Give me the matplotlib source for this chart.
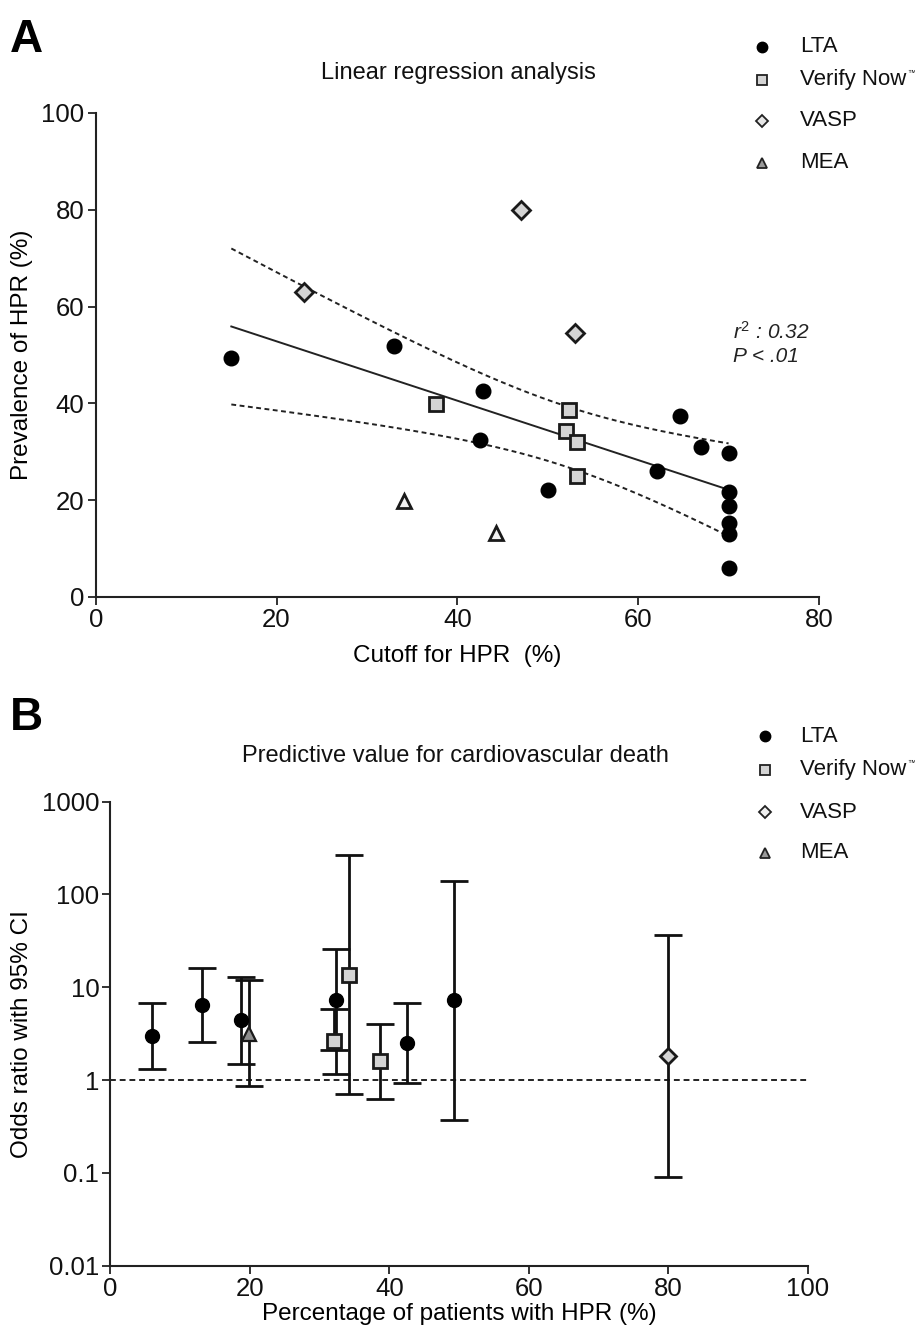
import numpy as np
import matplotlib
matplotlib.use("Agg")
import matplotlib.pyplot as plt
from matplotlib.lines import Line2D
from matplotlib.ticker import FixedLocator, FixedFormatter, NullLocator

plt.rcParams['font.family'] = ['Liberation Sans', 'DejaVu Sans']
plt.rcParams['mathtext.fontset'] = 'custom'
plt.rcParams['mathtext.it'] = 'Liberation Sans:italic'
plt.rcParams['mathtext.rm'] = 'Liberation Sans'

# ---------------- Panel A: cutoff vs prevalence of HPR ----------------
lta_cutoff = [15, 33, 42.8, 42.5, 50, 62.1, 64.6, 67, 70, 70, 70, 70, 70, 70]
lta_prev = [49.3, 51.9, 42.5, 32.4, 22.1, 26.1, 37.3, 31.0, 29.8, 21.6, 18.7, 15.3, 13.1, 6.0]

vn_cutoff = [37.6, 52.3, 52.0, 53.2, 53.2]
vn_prev = [39.8, 38.7, 34.2, 32.1, 25.1]

vasp_cutoff = [23, 47, 53]
vasp_prev = [63.1, 80.0, 54.5]

mea_cutoff = [34.1, 44.3]
mea_prev = [19.8, 13.2]

# two-sided 95% t quantile, 22 degrees of freedom
T_975_DF22 = 2.074

# ---------------- Panel B: odds ratios for cardiovascular death ----------------
lta_hpr = [6.0, 13.1, 18.7, 32.4, 42.5, 49.3]
lta_or = [3.0, 6.4, 4.4, 7.3, 2.5, 7.2]
lta_lo = [1.31, 2.57, 1.50, 1.15, 0.92, 0.37]
lta_hi = [6.8, 16.2, 13.0, 25.8, 6.8, 139]

vn_hpr = [32.1, 34.2, 38.7]
vn_or = [2.6, 13.7, 1.6]
vn_lo = [2.1, 0.70, 0.63]
vn_hi = [5.8, 267, 4.0]

vasp_hpr = [80.0]
vasp_or = [1.8]
vasp_lo = [0.089]
vasp_hi = [36.8]

mea_hpr = [19.8]
mea_or = [3.1]
mea_lo = [0.86]
mea_hi = [11.9]

or_ticks = [0.01, 0.1, 1, 10, 100, 1000]
or_ticklabels = ['0.01', '0.1', '1', '10', '100', '1000']

LIGHT = '#d4d4d4'
MID = '#8e8e8e'

W, H = 915, 1336
fig = plt.figure(figsize=(W / 100, H / 100), dpi=100)
renderer = fig.canvas.get_renderer()


def fx(px):
    return px / W


def fy(py):
    return 1 - py / H


def style_axes(ax):
    for s in ('top', 'right'):
        ax.spines[s].set_visible(False)
    for s in ('left', 'bottom'):
        ax.spines[s].set_linewidth(1.5)
        ax.spines[s].set_color('#222222')
    ax.tick_params(direction='out', length=6, width=1.3, labelsize=18.5,
                   color='#222222', labelcolor='#111111', pad=2)


def legend_block(x_marker, x_text, ys, entries):
    for y, (label, kw) in zip(ys, entries):
        fig.add_artist(Line2D([fx(x_marker)], [fy(y)], transform=fig.transFigure,
                              linestyle='none', **kw))
        t = fig.text(fx(x_text), fy(y), label, fontsize=16, va='center', ha='left',
                     color='#111111')
        if label == 'Verify Now':
            # small trademark sign right after the product name
            bb = t.get_window_extent(renderer=renderer)
            fig.text(bb.x1 / W + 0.001, fy(y - 3), '\u2122', fontsize=6,
                     va='bottom', ha='left', color='#111111')


# ---- Panel A ----
axA = fig.add_axes([fx(95.7), fy(597), fx(819 - 95.7), (597 - 113) / H])
style_axes(axA)

x_all = np.array(lta_cutoff + vn_cutoff + vasp_cutoff + mea_cutoff, dtype=float)
y_all = np.array(lta_prev + vn_prev + vasp_prev + mea_prev, dtype=float)
n = len(x_all)
slope, intercept = np.polyfit(x_all, y_all, 1)
resid = y_all - (slope * x_all + intercept)
s = np.sqrt(np.sum(resid ** 2) / (n - 2))
sxx = np.sum((x_all - x_all.mean()) ** 2)
xg = np.linspace(x_all.min(), x_all.max(), 200)
yg = slope * xg + intercept
half = T_975_DF22 * s * np.sqrt(1 / n + (xg - x_all.mean()) ** 2 / sxx)

axA.plot(xg, yg, color='#222222', lw=1.4, zorder=2)
axA.plot(xg, yg + half, color='#222222', lw=1.4, ls=(0, (2.5, 1.8)), zorder=2)
axA.plot(xg, yg - half, color='#222222', lw=1.4, ls=(0, (2.5, 1.8)), zorder=2)

axA.plot(lta_cutoff, lta_prev, 'o', ms=10.5, mfc='black', mec='black', zorder=4)
axA.plot(vn_cutoff, vn_prev, 's', ms=10.5, mfc=LIGHT, mec='#1a1a1a', mew=2, zorder=4)
axA.plot(vasp_cutoff, vasp_prev, 'D', ms=9, mfc=LIGHT, mec='#1a1a1a', mew=2, zorder=4)
axA.plot(mea_cutoff, mea_prev, '^', ms=10.5, mfc='#f2f2f2', mec='#1a1a1a', mew=2, zorder=4)

axA.set_xlim(0, 80)
axA.set_ylim(0, 100)
axA.set_xticks([0, 20, 40, 60, 80])
axA.set_yticks([0, 20, 40, 60, 80, 100])
axA.set_xlabel('Cutoff for HPR  (%)', fontsize=17.5, labelpad=9)
axA.set_ylabel('Prevalence of HPR (%)', fontsize=17.5, labelpad=6)

fig.text(fx(458), fy(73), 'Linear regression analysis', fontsize=17,
         ha='center', va='center', color='#111111')
fig.text(fx(10), fy(40), 'A', fontsize=33, fontweight='bold', ha='left', va='center')
fig.text(fx(733), fy(332), r'$r^2$ : 0.32', fontsize=15, style='italic',
         ha='left', va='center', color='#222222')
fig.text(fx(733), fy(356), 'P < .01', fontsize=15, style='italic',
         ha='left', va='center', color='#222222')

legend_block(762, 800, [47, 80, 121, 163], [
    ('LTA', dict(marker='o', ms=7.5, mfc='black', mec='black')),
    ('Verify Now', dict(marker='s', ms=7, mfc=LIGHT, mec='#222222', mew=1.3)),
    ('VASP', dict(marker='D', ms=6.5, mfc='#e6e6e6', mec='#222222', mew=1.3)),
    ('MEA', dict(marker='^', ms=7.5, mfc='#9a9a9a', mec='#222222', mew=1.3)),
])

# ---- Panel B ----
axB = fig.add_axes([fx(110.4), fy(1265.6), fx(808 - 110.4), (1265.6 - 801.6) / H])
style_axes(axB)
axB.set_yscale('log')
axB.set_xlim(0, 100)
axB.set_ylim(0.01, 1000)
axB.yaxis.set_major_locator(FixedLocator(or_ticks))
axB.yaxis.set_major_formatter(FixedFormatter(or_ticklabels))
axB.yaxis.set_minor_locator(NullLocator())
axB.set_xticks([0, 20, 40, 60, 80, 100])

axB.plot([0, 100], [1, 1], color='#222222', lw=1.4, ls=(0, (3, 2)), zorder=1)


def or_series(xs, ors, lo, hi, **kw):
    ors = np.asarray(ors, dtype=float)
    yerr = np.vstack([ors - np.asarray(lo), np.asarray(hi) - ors])
    axB.errorbar(xs, ors, yerr=yerr, fmt='none', ecolor='#111111', elinewidth=2,
                 capsize=10, capthick=2, zorder=3)
    axB.plot(xs, ors, linestyle='none', zorder=4, **kw)


or_series(lta_hpr, lta_or, lta_lo, lta_hi, marker='o', ms=10, mfc='black', mec='black')
or_series(vn_hpr, vn_or, vn_lo, vn_hi, marker='s', ms=9.5, mfc=LIGHT, mec='#1a1a1a', mew=2)
or_series(vasp_hpr, vasp_or, vasp_lo, vasp_hi, marker='D', ms=8.5, mfc=LIGHT, mec='#1a1a1a', mew=2)
or_series(mea_hpr, mea_or, mea_lo, mea_hi, marker='^', ms=10, mfc=MID, mec='#1a1a1a', mew=1.6)

axB.set_xlabel('Percentage of patients with HPR (%)', fontsize=17.5, labelpad=2)
axB.set_ylabel('Odds ratio with 95% CI', fontsize=17.5, labelpad=6)

fig.text(fx(455), fy(756), 'Predictive value for cardiovascular death', fontsize=17,
         ha='center', va='center', color='#111111')
fig.text(fx(10), fy(718), 'B', fontsize=33, fontweight='bold', ha='left', va='center')

legend_block(765, 800, [736, 770, 812, 853], [
    ('LTA', dict(marker='o', ms=7.5, mfc='black', mec='black')),
    ('Verify Now', dict(marker='s', ms=7, mfc=LIGHT, mec='#222222', mew=1.3)),
    ('VASP', dict(marker='D', ms=6.5, mfc='#f0f0f0', mec='#222222', mew=1.3)),
    ('MEA', dict(marker='^', ms=7.5, mfc='#9a9a9a', mec='#222222', mew=1.3)),
])

fig.savefig('out.png', dpi=100)
